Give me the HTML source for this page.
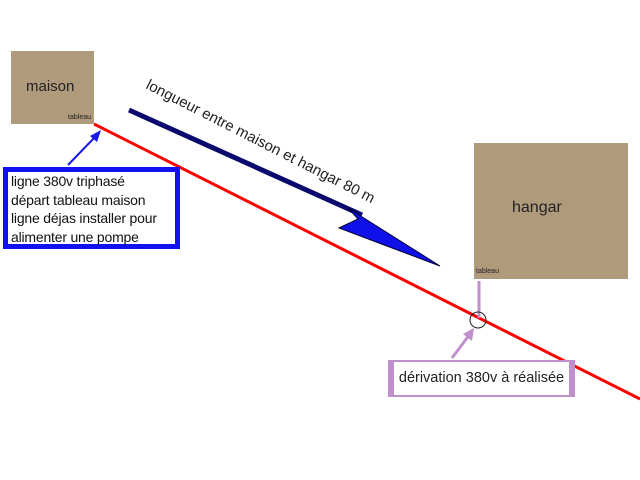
<!DOCTYPE html>
<html><head><meta charset="utf-8"><style>
body{margin:0;width:640px;height:480px;background:#fff;overflow:hidden;position:relative;font-family:"Liberation Sans",sans-serif}
.box{position:absolute;background:#b09a7c;color:#222}
</style></head><body>
<div class="box" style="left:11px;top:51px;width:83px;height:73px">
<div style="position:absolute;left:15px;top:27px;font-size:15px">maison</div>
<div style="position:absolute;right:3px;bottom:3px;font-size:7px">tableau</div></div>
<div class="box" style="left:474px;top:143px;width:154px;height:136px">
<div style="position:absolute;left:38px;top:56px;font-size:16px">hangar</div>
<div style="position:absolute;left:2px;bottom:4px;font-size:7px">tableau</div></div>
<svg width="640" height="480" style="position:absolute;left:0;top:0">
<line x1="94" y1="124" x2="640" y2="399" stroke="#f00" stroke-width="3"/>
<line x1="129" y1="110" x2="362" y2="215" stroke="#0a0a6e" stroke-width="5"/>
<polygon points="348,208 440,266 339,228 358,219" fill="#1010e8" stroke="#000033" stroke-width="1"/>
<line x1="68" y1="165" x2="96" y2="136" stroke="#1a1ae6" stroke-width="2"/>
<polygon points="101,130 90,136 97,142" fill="#1a1ae6"/>
<line x1="479" y1="281" x2="479" y2="318" stroke="#c090cc" stroke-width="3"/>
<circle cx="478" cy="320" r="8" fill="none" stroke="#222" stroke-width="1"/>
<line x1="452" y1="358" x2="470" y2="334" stroke="#c090cc" stroke-width="3"/>
<polygon points="474,328 463,334 472,341" fill="#c090cc"/>
<text x="145" y="88" font-size="15" fill="#222" transform="rotate(27 145 88)" font-family="Liberation Sans, sans-serif">longueur entre maison et hangar 80 m</text>
</svg>
<div style="position:absolute;left:3px;top:167px;width:164px;height:72px;border:5px solid #1010f0;background:#fff;font-size:14px;line-height:18.5px;color:#111;padding:0 0 0 3px;letter-spacing:-0.2px;white-space:nowrap">ligne 380v triphasé<br>départ tableau maison<br>ligne déjas installer pour<br>alimenter une pompe</div>
<div style="position:absolute;left:388px;top:360px;width:175px;height:33px;border:solid #c090cc;border-width:2px 6px;background:#fff;font-size:14.5px;line-height:33px;color:#222;text-align:center">dérivation 380v à réalisée</div>
</body></html>
